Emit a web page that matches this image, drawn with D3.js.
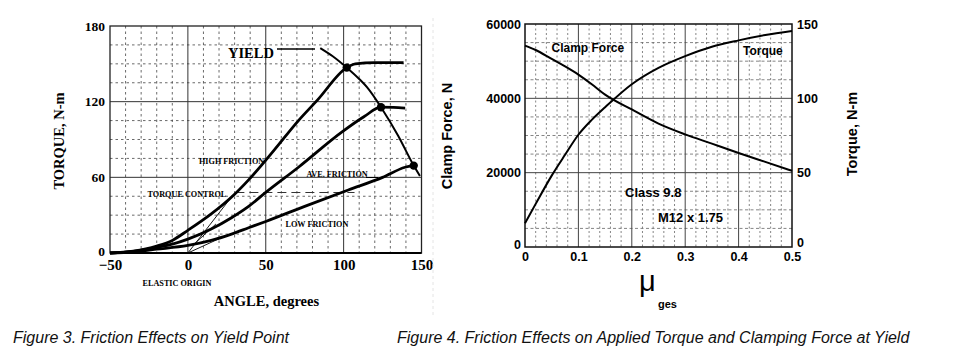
<!DOCTYPE html>
<html><head><meta charset="utf-8">
<script src="https://cdn.jsdelivr.net/npm/d3@7"></script>
<style>
body{margin:0;background:#fff;}
svg{display:block;}
.serif{font-family:"Liberation Serif","Times New Roman",serif;font-weight:bold;}
.sans{font-family:"Liberation Sans",Arial,sans-serif;font-weight:bold;}
</style></head>
<body><svg id="c" width="960" height="360"></svg>
<script>
// ---------- Figure 3 data (angle in degrees, torque in N-m) ----------
const angleTicks = [-50, 0, 50, 100, 150];
const torqueTicks = [0, 60, 120, 180];
const highFriction = [[-50,0],[-35,1.5],[-20,5.5],[-10,10],[0,18],[15,31],[29.5,46],[39,58],[55,81],[71,105],[83,121],[102,147],[107.5,150],[120,151],[138.5,151]];
const aveFriction = [[-50,0],[-35,1.3],[-20,4.5],[-10,7],[0,11],[15,19],[28,28],[39,37],[50,48],[71,68],[99,96],[113,108],[124,115.6],[132,115.5],[139.5,114.8]];
const lowFriction = [[-50,0],[-35,1],[-20,3],[0,6],[15,10],[28,15],[39,20],[50,25],[75,37],[103,50],[125,60],[139.5,68],[145,69.3]];
const yieldCurve = [[85,162.5],[93,156],[102,147],[110,138],[116,130],[124,115.6],[135,93],[145,69.3],[149,61]];
const yieldPoints = [[102,147],[124,115.6],[145,69.3]];
const torqueControl = [[30.5,48],[107,48]];
const elasticLines = [[[0,0],[29,46]],[[0,0],[23,13]],[[4,7],[18,23]]];

// ---------- Figure 4 data (mu, clamp force N, torque N-m) ----------
const muTicks = [0, 0.1, 0.2, 0.3, 0.4, 0.5];
const forceTicks = [0, 20000, 40000, 60000];
const torqueRightTicks = [0, 50, 100, 150];
const muValues = [0, 0.02, 0.05, 0.075, 0.1, 0.125, 0.15, 0.2, 0.25, 0.3, 0.35, 0.4, 0.45, 0.5];
const clampForce = [54200, 53000, 50600, 48600, 46400, 43800, 41000, 37000, 33200, 30300, 27800, 25300, 22900, 20500];
const appliedTorque = [16, 29, 48, 62, 75.5, 85.5, 94, 109.5, 120.5, 128.4, 134.7, 139, 142.6, 145.3];

const svg = d3.select("#c");

// ================= Figure 3 =================
const xA = d3.scaleLinear().domain([-50,150]).range([110,421.5]);
const yA = d3.scaleLinear().domain([0,180]).range([253,26]);
const gA = svg.append("g");

// minor grid
gA.selectAll(".vgA").data(xA.ticks(20).filter(d => d % 50 !== 0)).enter().append("line")
  .attr("x1", d => xA(d)).attr("x2", d => xA(d)).attr("y1", yA(180)).attr("y2", yA(0))
  .attr("stroke", "#444").attr("stroke-width", 0.8).attr("stroke-dasharray", "2.5,3");
gA.selectAll(".hgA").data(d3.range(15, 180, 15).filter(d => d % 60 !== 0)).enter().append("line")
  .attr("x1", xA(-50)).attr("x2", xA(150)).attr("y1", d => yA(d)).attr("y2", d => yA(d))
  .attr("stroke", "#444").attr("stroke-width", 0.8).attr("stroke-dasharray", "2.5,3");
// major grid
gA.selectAll(".vMA").data(angleTicks.slice(1, -1)).enter().append("line")
  .attr("x1", d => xA(d)).attr("x2", d => xA(d)).attr("y1", yA(180)).attr("y2", yA(0))
  .attr("stroke", "#333").attr("stroke-width", 1);
gA.selectAll(".hMA").data(torqueTicks.slice(1, -1)).enter().append("line")
  .attr("x1", xA(-50)).attr("x2", xA(150)).attr("y1", d => yA(d)).attr("y2", d => yA(d))
  .attr("stroke", "#333").attr("stroke-width", 1);
gA.append("rect").attr("x", xA(-50)).attr("y", yA(180)).attr("width", xA(150)-xA(-50)).attr("height", yA(0)-yA(180))
  .attr("fill", "none").attr("stroke", "#222").attr("stroke-width", 1.3);
gA.append("line").attr("x1", xA(-50)).attr("x2", xA(150)).attr("y1", yA(0)).attr("y2", yA(0))
  .attr("stroke", "#000").attr("stroke-width", 2);

// axes
const axA_y = gA.append("g").attr("transform", `translate(${xA(-50)},0)`)
  .call(d3.axisLeft(yA).tickValues(torqueTicks).tickSize(0).tickPadding(5));
const axA_x = gA.append("g").attr("transform", `translate(0,${yA(0)})`)
  .call(d3.axisBottom(xA).tickValues(angleTicks).tickSize(0).tickPadding(6.5));
[axA_y, axA_x].forEach(a => { a.select(".domain").remove();
  a.selectAll("text").attr("class", "serif").attr("fill", "#000"); });
axA_y.selectAll("text").style("font-size", "13.5px");
axA_y.selectAll("text").filter(d => d === 0).attr("dy", "0.15em");
axA_x.selectAll("text").style("font-size", "15px");

// elastic thin lines
const lineA = d3.line().x(d => xA(d[0])).y(d => yA(d[1]));
gA.selectAll(".el").data(elasticLines).enter().append("path")
  .attr("d", lineA).attr("fill", "none").attr("stroke", "#000").attr("stroke-width", 0.9);
// torque control dashed
gA.append("path").attr("d", lineA(torqueControl)).attr("fill", "none")
  .attr("stroke", "#333").attr("stroke-width", 1.1).attr("stroke-dasharray", "9,5");

const curveA = d3.line().x(d => xA(d[0])).y(d => yA(d[1])).curve(d3.curveMonotoneX);
[highFriction, aveFriction, lowFriction].forEach(s => {
  gA.append("path").attr("d", curveA(s)).attr("fill", "none").attr("stroke", "#000").attr("stroke-width", 2.8);
});
gA.append("path").attr("d", curveA(yieldCurve)).attr("fill", "none").attr("stroke", "#000").attr("stroke-width", 2);
gA.selectAll(".yp").data(yieldPoints).enter().append("circle")
  .attr("cx", d => xA(d[0])).attr("cy", d => yA(d[1])).attr("r", 4.2).attr("fill", "#000");

// labels
gA.append("text").attr("class", "serif").attr("x", 228).attr("y", 57.5).style("font-size", "14.5px").text("YIELD");
gA.append("line").attr("x1", 277).attr("x2", 315).attr("y1", 49).attr("y2", 49).attr("stroke", "#000").attr("stroke-width", 1.3);
const small = [["HIGH FRICTION",199,164],["AVE. FRICTION",306.5,177],["TORQUE CONTROL",147.5,196.5],["LOW FRICTION",285.5,227],["ELASTIC ORIGIN",142.5,286]];
small.forEach(s => gA.append("text").attr("class", "serif").attr("x", s[1]).attr("y", s[2]).style("font-size", "8.2px").text(s[0]));
gA.append("line").attr("x1", 366).attr("x2", 378).attr("y1", 177.5).attr("y2", 177.5).attr("stroke", "#000").attr("stroke-width", 1);
gA.append("text").attr("class", "serif").attr("x", 266.5).attr("y", 306).attr("text-anchor", "middle").style("font-size", "14.5px").text("ANGLE, degrees");
gA.append("text").attr("class", "serif").attr("transform", "translate(64,141) rotate(-90)").attr("text-anchor", "middle").style("font-size", "14.5px").text("TORQUE, N-m");

// faint scan edge
svg.append("line").attr("x1", 433).attr("x2", 433).attr("y1", 18).attr("y2", 318).attr("stroke", "#e4e4e4").attr("stroke-width", 1).attr("stroke-dasharray", "3,3");

// ================= Figure 4 =================
const xB = d3.scaleLinear().domain([0,0.5]).range([525,792]);
const yB = d3.scaleLinear().domain([0,60000]).range([247,24]);
const yBT = d3.scaleLinear().domain([0,150]).range([247,24]);
const gB = svg.append("g");

gB.selectAll(".vgB").data(d3.range(0, 26).map(i => i * 0.02).filter((d, i) => i % 5 !== 0)).enter().append("line")
  .attr("x1", d => xB(d)).attr("x2", d => xB(d)).attr("y1", yB(60000)).attr("y2", yB(0))
  .attr("stroke", "#666").attr("stroke-width", 0.8).attr("stroke-dasharray", "2,2.5");
gB.selectAll(".hgB").data(d3.range(5000, 60000, 5000).filter(d => d % 20000 !== 0)).enter().append("line")
  .attr("x1", xB(0)).attr("x2", xB(0.5)).attr("y1", d => yB(d)).attr("y2", d => yB(d))
  .attr("stroke", "#666").attr("stroke-width", 0.8).attr("stroke-dasharray", "3,2.5");
gB.selectAll(".vMB").data(muTicks.slice(1, -1)).enter().append("line")
  .attr("x1", d => xB(d)).attr("x2", d => xB(d)).attr("y1", yB(60000)).attr("y2", yB(0))
  .attr("stroke", "#444").attr("stroke-width", 1);
gB.selectAll(".hMB").data(forceTicks.slice(1, -1)).enter().append("line")
  .attr("x1", xB(0)).attr("x2", xB(0.5)).attr("y1", d => yB(d)).attr("y2", d => yB(d))
  .attr("stroke", "#444").attr("stroke-width", 1);
gB.append("rect").attr("x", xB(0)).attr("y", yB(60000)).attr("width", xB(0.5)-xB(0)).attr("height", yB(0)-yB(60000))
  .attr("fill", "none").attr("stroke", "#111").attr("stroke-width", 1.5);

const axB_l = gB.append("g").attr("transform", `translate(${xB(0)},0)`)
  .call(d3.axisLeft(yB).tickValues(forceTicks).tickFormat(d3.format("d")).tickSize(0).tickPadding(4));
const axB_r = gB.append("g").attr("transform", `translate(${xB(0.5)},0)`)
  .call(d3.axisRight(yBT).tickValues(torqueRightTicks).tickSize(0).tickPadding(5));
const axB_x = gB.append("g").attr("transform", `translate(0,${yB(0)})`)
  .call(d3.axisBottom(xB).tickValues(muTicks).tickFormat(d => d === 0 ? "0" : d3.format(".1f")(d)).tickSize(0).tickPadding(5));
[axB_l, axB_r, axB_x].forEach(a => { a.select(".domain").remove();
  a.selectAll("text").attr("class", "sans").attr("fill", "#000").style("font-size", "12.5px"); });
axB_l.selectAll("text").filter(d => d === 0).attr("dy", "0.1em");
axB_r.selectAll("text").filter(d => d === 0).attr("dy", "-0.05em");

const lineClamp = d3.line().x((d, i) => xB(muValues[i])).y(d => yB(d)).curve(d3.curveMonotoneX);
const lineTorque = d3.line().x((d, i) => xB(muValues[i])).y(d => yBT(d)).curve(d3.curveMonotoneX);
gB.append("path").attr("d", lineClamp(clampForce)).attr("fill", "none").attr("stroke", "#000").attr("stroke-width", 2);
gB.append("path").attr("d", lineTorque(appliedTorque)).attr("fill", "none").attr("stroke", "#000").attr("stroke-width", 2);

const labB = [["Clamp Force",551.5,52,12],["Torque",743,55,12],["Class 9.8",625,197,13],["M12 x 1.75",658,221.5,13]];
labB.forEach(s => gB.append("text").attr("class", "sans").attr("x", s[1]).attr("y", s[2]).style("font-size", s[3] + "px").text(s[0]));
gB.append("text").attr("class", "sans").attr("transform", "translate(452,136) rotate(-90)").attr("text-anchor", "middle").style("font-size", "14.5px").text("Clamp Force, N");
gB.append("text").attr("class", "sans").attr("transform", "translate(857,134) rotate(-90)").attr("text-anchor", "middle").style("font-size", "14.5px").text("Torque, N-m");
gB.append("text").attr("x", 639).attr("y", 291).style("font-family", "'Liberation Sans',Arial,sans-serif").style("font-size", "29px").text("μ");
gB.append("text").attr("class", "sans").attr("x", 658).attr("y", 308).style("font-size", "11px").text("ges");

// captions
svg.append("text").attr("x", 13).attr("y", 343.3).style("font-family", "'Liberation Sans',Arial,sans-serif").style("font-style", "italic").style("font-size", "16px").attr("fill", "#111").text("Figure 3. Friction Effects on Yield Point");
svg.append("text").attr("x", 397).attr("y", 343.3).style("font-family", "'Liberation Sans',Arial,sans-serif").style("font-style", "italic").style("font-size", "16px").attr("fill", "#111").text("Figure 4. Friction Effects on Applied Torque and Clamping Force at Yield");
</script></body></html>
